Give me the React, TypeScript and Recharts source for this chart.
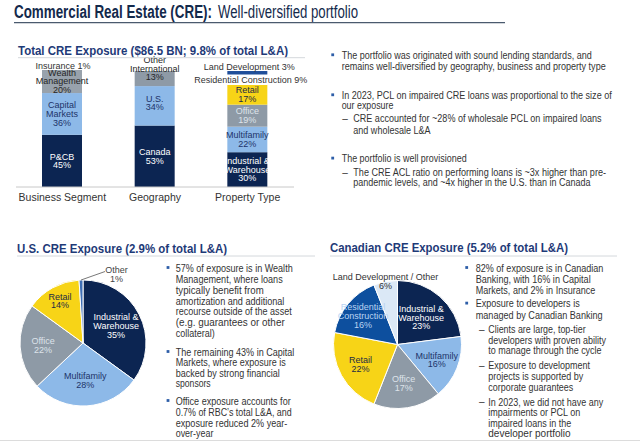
import React from 'react';
import { BarChart, Bar, XAxis, YAxis, Cell, PieChart, Pie } from 'recharts';

// ---------- DATA ----------
const barCategories = ['Business Segment', 'Geography', 'Property Type'];
const businessNames = ['P&CB', 'Capital Markets', 'Wealth Management', 'Insurance'];
const businessValues = [45, 36, 20, 1];
const geographyNames = ['Canada', 'U.S.', 'Other International'];
const geographyValues = [53, 34, 13];
const propertyNames = ['Industrial & Warehouse', 'Multifamily', 'Office', 'Retail', 'Residential Construction', 'Land Development'];
const propertyValues = [30, 22, 19, 17, 9, 3];

const usPieNames = ['Industrial & Warehouse', 'Multifamily', 'Office', 'Retail', 'Other'];
const usPieValues = [35, 28, 22, 14, 1];
const caPieNames = ['Industrial & Warehouse', 'Multifamily', 'Office', 'Retail', 'Residential Construction', 'Land Development / Other'];
const caPieValues = [23, 16, 17, 22, 16, 6];

// ---------- STYLES ----------
const FONT = "'Liberation Sans Narrow','Arial Narrow','Liberation Sans',Arial,sans-serif";
const NAVY = '#0c2552';
const LIGHT = '#8db9e8';
const GRAY = '#8e9aa6';
const YELLOW = '#f7d417';
const TEXT = '#333333';
const HEAD = '#1e3a78';

type SegStyle = { fill: string; color: string; lines: string[]; place?: 'center' | 'above' | 'single'; dy?: number; dx?: number };
const SEG: Record<string, SegStyle> = {
  'P&CB': { fill: NAVY, color: '#ffffff', lines: ['P&CB'] },
  'Capital Markets': { fill: LIGHT, color: '#1d3468', lines: ['Capital', 'Markets'] },
  'Wealth Management': { fill: '#98a2ac', color: '#262626', lines: ['Wealth', 'Management'] },
  'Insurance': { fill: '#ffffff', color: TEXT, lines: ['Insurance'], place: 'above', dy: -3, dx: 1 },
  'Canada': { fill: NAVY, color: '#ffffff', lines: ['Canada'] },
  'U.S.': { fill: LIGHT, color: '#1d3468', lines: ['U.S.'], dy: -3 },
  'Other International': { fill: GRAY, color: '#262626', lines: ['Other', 'International'], dy: -10 },
  'Industrial & Warehouse': { fill: NAVY, color: '#ffffff', lines: ['Industrial &', 'Warehouse'] },
  'Multifamily': { fill: LIGHT, color: '#1d3468', lines: ['Multifamily'] },
  'Office': { fill: GRAY, color: '#dfe4ea', lines: ['Office'] },
  'Retail': { fill: YELLOW, color: '#1d2b45', lines: ['Retail'] },
  'Residential Construction': { fill: '#ffffff', color: TEXT, lines: ['Residential Construction'], place: 'single', dx: 3.5 },
  'Land Development': { fill: '#1f4e9a', color: TEXT, lines: ['Land Development'], place: 'above', dy: -4.5, dx: 2 },
};

type PieStyle = { fill: string; color: string; lines: string[] };
const PIE: Record<string, PieStyle> = {
  'Industrial & Warehouse': { fill: NAVY, color: '#ffffff', lines: ['Industrial &', 'Warehouse'] },
  'Multifamily': { fill: LIGHT, color: '#1d3468', lines: ['Multifamily'] },
  'Office': { fill: GRAY, color: '#dde3ea', lines: ['Office'] },
  'Retail': { fill: YELLOW, color: '#1d2b45', lines: ['Retail'] },
  'Other': { fill: '#3f6fb5', color: '#444444', lines: ['Other'] },
  'Residential Construction': { fill: '#0d4f9e', color: '#b9d3f2', lines: ['Residential', 'Construction'] },
  'Land Development / Other': { fill: '#dbe8f6', color: TEXT, lines: ['Land Development / Other'] },
};
const usLabelRadius = [0.59, 0.6, 0.635, 0.76, -1];
const caLabelRadius = [0.56, 0.66, 0.62, 0.66, 0.7, 1.0];

// ---------- DERIVED ----------
const stacks = [
  businessNames.map((n, i) => ({ name: n, value: businessValues[i] })),
  geographyNames.map((n, i) => ({ name: n, value: geographyValues[i] })),
  propertyNames.map((n, i) => ({ name: n, value: propertyValues[i] })),
];
const maxSegs = Math.max(...stacks.map((s) => s.length));
const barRows = barCategories.map((c, ci) => {
  const row: Record<string, any> = { category: c };
  for (let si = 0; si < maxSegs; si++) row['s' + si] = stacks[ci][si] ? stacks[ci][si].value : 0;
  return row;
});
const usPieData = usPieNames.map((n, i) => ({ name: n, value: usPieValues[i] }));
const caPieData = caPieNames.map((n, i) => ({ name: n, value: caPieValues[i] }));

const RAD = Math.PI / 180;

const makeSegShape = (si: number) => (props: any) => {
  const { x, y, width, height, payload } = props;
  const ci = barCategories.indexOf(payload && payload.category);
  const seg = ci >= 0 ? stacks[ci][si] : undefined;
  if (!seg) return <g />;
  const st = SEG[seg.name];
  const X = Number(x), Y = Number(y), W = Number(width), H = Number(height);
  const cx = X + W / 2 + (st.dx || 0);
  const common = { fontFamily: FONT, fontSize: 9, fill: st.color, textAnchor: 'middle' as const, dominantBaseline: 'central' as const };
  let label: React.ReactNode;
  if (st.place === 'above') {
    label = <text x={cx} y={Y + (st.dy || 0)} {...common}>{`${st.lines[0]} ${seg.value}%`}</text>;
  } else if (st.place === 'single') {
    label = <text x={cx} y={Y + H / 2 + (st.dy || 0)} {...common}>{`${st.lines[0]} ${seg.value}%`}</text>;
  } else {
    const lines = [...st.lines, `${seg.value}%`];
    const lh = 8.6;
    const c = Y + H / 2 + (st.dy || 0);
    label = lines.map((l, i) => (
      <text key={i} x={cx} y={c + (i - (lines.length - 1) / 2) * lh} {...common}>{l}</text>
    ));
  }
  return (
    <g>
      <rect x={X} y={Y} width={W} height={H} fill={st.fill} />
      {label}
    </g>
  );
};

const makePieLabel = (data: { name: string; value: number }[], radii: number[]) => (props: any) => {
  const { cx, cy, midAngle, outerRadius, index } = props;
  const d = data[index];
  const st = PIE[d.name];
  const k = radii[index];
  const common = { fontFamily: FONT, fontSize: 9, fill: st.color, textAnchor: 'middle' as const, dominantBaseline: 'central' as const };
  if (k < 0) {
    const ex = cx + outerRadius * Math.cos(-midAngle * RAD);
    const ey = cy + outerRadius * Math.sin(-midAngle * RAD);
    return (
      <g>
        <polyline points={`${ex},${ey} ${ex + 24},${ey - 8.5}`} stroke="#555" strokeWidth={0.8} fill="none" />
        <text x={ex + 35.5} y={ey - 10} {...common}>{st.lines[0]}</text>
        <text x={ex + 35.5} y={ey - 1.5} {...common}>{`${d.value}%`}</text>
      </g>
    );
  }
  const r = outerRadius * k;
  const px = cx + r * Math.cos(-midAngle * RAD);
  const py = cy + r * Math.sin(-midAngle * RAD);
  const lines = [...st.lines, `${d.value}%`];
  const lh = 8.8;
  return (
    <g>
      {lines.map((l, i) => (
        <text key={i} x={px} y={py + (i - (lines.length - 1) / 2) * lh} {...common}>{l}</text>
      ))}
    </g>
  );
};

const CatTick = (props: any) => {
  const { x, payload } = props;
  return (
    <text x={x} y={197.3} fontFamily={FONT} fontSize={10.5} fill={TEXT} textAnchor="middle" dominantBaseline="central">
      {payload.value}
    </text>
  );
};

// ---------- SLIDE TEXT ----------
type Line = [string, number, number, number];
const trMain: Line[] = [
  ['The portfolio was originated with sound lending standards, and', 341.7, 55, 250],
  ['remains well-diversified by geography, business and property type', 341.7, 66, 264],
  ['In 2023, PCL on impaired CRE loans was proportional to the size of', 341.7, 95, 270],
  ['our exposure', 341.7, 105.7, 51.7],
  ['CRE accounted for ~28% of wholesale PCL on impaired loans', 353.3, 118.3, 248.3],
  ['and wholesale L&A', 353.3, 130, 77.3],
  ['The portfolio is well provisioned', 341.7, 158.3, 125],
  ['The CRE ACL ratio on performing loans is ~3x higher than pre-', 353.3, 172.3, 252.7],
  ['pandemic levels, and ~4x higher in the U.S. than in Canada', 353.3, 182.7, 237.3],
];
const usText: Line[] = [
  ['57% of exposure is in Wealth', 175.7, 267.7, 117],
  ['Management, where loans', 175.7, 278.7, 107],
  ['typically benefit from', 175.7, 290, 88],
  ['amortization and additional', 175.7, 300.7, 108.7],
  ['recourse outside of the asset', 175.7, 311.3, 116],
  ['(e.g. guarantees or other', 175.7, 322.3, 109],
  ['collateral)', 175.7, 333.3, 39],
  ['The remaining 43% in Capital', 175.7, 351.7, 118.7],
  ['Markets, where exposure is', 175.7, 362.3, 110],
  ['backed by strong financial', 175.7, 373, 104],
  ['sponsors', 175.7, 383.3, 35],
  ['Office exposure accounts for', 175.7, 400.7, 115],
  ['0.7% of RBC\u2019s total L&A, and', 175.7, 411.7, 116],
  ['exposure reduced 2% year-', 175.7, 422.7, 111.7],
  ['over-year', 175.7, 433.3, 37.7],
];
const caText: Line[] = [
  ['82% of exposure is in Canadian', 475.7, 267.7, 127.7],
  ['Banking, with 16% in Capital', 475.7, 278.7, 115],
  ['Markets, and 2% in Insurance', 475.7, 290, 119.7],
  ['Exposure to developers is', 475.7, 303.3, 104],
  ['managed by Canadian Banking', 475.7, 315, 127],
  ['Clients are large, top-tier', 488.3, 329, 97.3],
  ['developers with proven ability', 488.3, 339.7, 117.7],
  ['to manage through the cycle', 488.3, 350.3, 113.3],
  ['Exposure to development', 488.3, 365, 101.7],
  ['projects is supported by', 488.3, 375.7, 95],
  ['corporate guarantees', 488.3, 386.7, 85],
  ['In 2023, we did not have any', 488.3, 401.7, 115],
  ['impairments or PCL on', 488.3, 412.3, 92],
  ['impaired loans in the', 488.3, 422.7, 83],
  ['developer portfolio', 488.3, 433.3, 82.3],
];
const bullets: [number, number][] = [[332.7, 55], [332.7, 95], [332.7, 158.3], [168, 267.7], [168, 351.7], [168, 400.7], [466.7, 267.7], [466.7, 303.3]];
const dashes: [number, number][] = [[345, 118.3], [345, 172.3], [481.7, 329], [481.7, 365], [481.7, 401.7]];

const T = ({ x, y, w, size = 10, weight = 400, color = TEXT, children }: any) => (
  <text x={x} y={y} fontSize={size} fontWeight={weight} fill={color} fontFamily={FONT} dominantBaseline="central" textLength={w} lengthAdjust="spacingAndGlyphs">
    {children}
  </text>
);

export default function App() {
  return (
    <div style={{ position: 'absolute', left: 0, top: 0, width: 640, height: 442, background: '#ffffff', overflow: 'hidden', fontFamily: FONT }}>
      <div style={{ position: 'absolute', left: 0, top: 0 }}>
        <BarChart width={310} height={212} data={barRows} margin={{ top: 68.7, right: 16, bottom: 12, left: 16 }} barCategoryGap={26}>
          <XAxis dataKey="category" height={13} tickLine={false} axisLine={{ stroke: '#c8c8c8' }} tick={<CatTick />} interval={0} />
          <YAxis hide domain={[0, 102]} />
          {Array.from({ length: maxSegs }).map((_, si) => (
            <Bar key={si} dataKey={'s' + si} stackId="a" barSize={40} isAnimationActive={false} shape={makeSegShape(si)} />
          ))}
        </BarChart>
      </div>
      <div style={{ position: 'absolute', left: 0, top: 258 }}>
        <PieChart width={170} height={170} margin={{ top: 0, right: 0, bottom: 0, left: 0 }}>
          <Pie data={usPieData} dataKey="value" nameKey="name" cx={83} cy={85} outerRadius={63} startAngle={90} endAngle={-270}
            stroke="#ffffff" strokeWidth={1} labelLine={false} label={makePieLabel(usPieData, usLabelRadius)} isAnimationActive={false}>
            {usPieData.map((d, i) => <Cell key={i} fill={PIE[d.name].fill} />)}
          </Pie>
        </PieChart>
      </div>
      <div style={{ position: 'absolute', left: 320, top: 258 }}>
        <PieChart width={170} height={170} margin={{ top: 0, right: 0, bottom: 0, left: 0 }}>
          <Pie data={caPieData} dataKey="value" nameKey="name" cx={77.5} cy={86.5} outerRadius={64} startAngle={90} endAngle={-270}
            stroke="#ffffff" strokeWidth={1} labelLine={false} label={makePieLabel(caPieData, caLabelRadius)} isAnimationActive={false}>
            {caPieData.map((d, i) => <Cell key={i} fill={PIE[d.name].fill} />)}
          </Pie>
        </PieChart>
      </div>
      <svg width={640} height={442} style={{ position: 'absolute', left: 0, top: 0, pointerEvents: 'none' }}>
        <T x={14} y={12.3} w={198} size={17.5} weight={700} color="#13294b">Commercial Real Estate (CRE):</T>
        <T x={218} y={12.3} w={140} size={17.5} color="#13294b">Well-diversified portfolio</T>
        <line x1={14} y1={22.7} x2={505} y2={22.7} stroke="#4a5a6e" strokeWidth={1.2} />

        <T x={18} y={50} w={270} size={13} weight={700} color={HEAD}>Total CRE Exposure ($86.5 BN; 9.8% of total L&amp;A)</T>
        <line x1={18} y1={57.7} x2={305} y2={57.7} stroke="#d4d8dc" strokeWidth={1} />
        <T x={17} y={248.3} w={210} size={13} weight={700} color={HEAD}>U.S. CRE Exposure (2.9% of total L&amp;A)</T>
        <line x1={17} y1={256} x2={315} y2={256} stroke="#d4d8dc" strokeWidth={1} />
        <T x={330} y={247.5} w={238} size={13} weight={700} color={HEAD}>Canadian CRE Exposure (5.2% of total L&amp;A)</T>
        <line x1={330} y1={256} x2={617} y2={256} stroke="#d4d8dc" strokeWidth={1} />

        {trMain.map(([s, x, y, w], i) => <T key={'tr' + i} x={x} y={y} w={w} size={10}>{s}</T>)}
        {usText.map(([s, x, y, w], i) => <T key={'us' + i} x={x} y={y} w={w} size={10.5}>{s}</T>)}
        {caText.map(([s, x, y, w], i) => <T key={'ca' + i} x={x} y={y} w={w} size={10.5}>{s}</T>)}
        {bullets.map(([x, y], i) => <rect key={'b' + i} x={x - 1.4} y={y - 1.6} width={2.8} height={2.8} fill="#2d5ea8" />)}
        {dashes.map(([x, y], i) => <text key={'d' + i} x={x} y={y} fontSize={10} fill={TEXT} fontFamily={FONT} textAnchor="middle" dominantBaseline="central">–</text>)}
        <line x1={0} y1={440.5} x2={640} y2={440.5} stroke="#dcdcdc" strokeWidth={1} />
      </svg>
    </div>
  );
}
